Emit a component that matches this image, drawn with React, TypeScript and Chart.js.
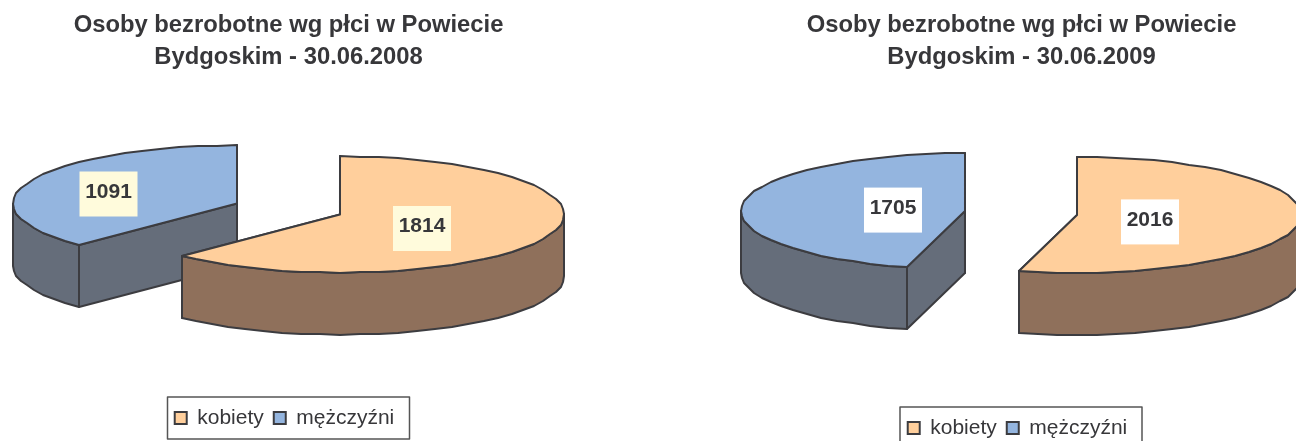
import React, { useEffect, useRef } from "react";
import { Chart, registerables } from "chart.js";

Chart.register(...registerables);

const categories = ["kobiety", "mężczyźni"];
const values2008 = [1814, 1091];
const values2009 = [2016, 1705];
const titleLines2008 = ["Osoby bezrobotne wg płci w Powiecie", "Bydgoskim - 30.06.2008"];
const titleLines2009 = ["Osoby bezrobotne wg płci w Powiecie", "Bydgoskim - 30.06.2009"];
const topColors = ["#FFCF9C", "#94B5DF"];
const sideColors = ["#8F705B", "#656D7A"];

const INK = "#37373a";
const OUTLINE = "#3c3c40";
const RADIUS = 224;
const SQUASH = 0.259;
const DEPTH = 62;
const RIM_STEP = (5 * Math.PI) / 180;
const LEGEND_SHIFT = 4;
const FONT = "'Liberation Sans', Arial, sans-serif";

function rimAngles(a0: number, a1: number) {
  const out = [a0];
  let a = (Math.floor(a0 / RIM_STEP) + 1) * RIM_STEP;
  while (a < a1 - 1e-6) {
    out.push(a);
    a += RIM_STEP;
  }
  out.push(a1);
  return out;
}

function pie3d(o: { cx: number; cy: number; explode: number; labelBg: string; labelShift: number[][]; legendW: number; legendH: number }) {
  return {
    id: "pie3d",
    afterLayout(chart: any) {
      chart.legend.left -= LEGEND_SHIFT;
      chart.legend.right -= LEGEND_SHIFT;
    },
    beforeDatasetsDraw(chart: any) {
      const ctx = chart.ctx;
      const els: any[] = chart.getDatasetMeta(0).data;
      ctx.lineWidth = 2;
      ctx.lineJoin = "round";
      ctx.strokeStyle = OUTLINE;

      const geo = els.map((el) => {
        const mid = (el.startAngle + el.endAngle) / 2;
        const ax = o.cx + Math.cos(mid) * o.explode;
        const ay = o.cy + Math.sin(mid) * o.explode * SQUASH;
        const rim = (a: number) => [
          Math.round(ax + RADIUS * Math.cos(a)),
          Math.round(ay + RADIUS * SQUASH * Math.sin(a)),
        ];
        return { el, ax, ay, rim };
      });

      // side walls, back slice first
      [...geo].reverse().forEach((g, k) => {
        const i = geo.length - 1 - k;
        ctx.fillStyle = sideColors[i];
        [g.el.startAngle, g.el.endAngle].forEach((a: number) => {
          const [x, y] = g.rim(a);
          ctx.beginPath();
          ctx.moveTo(g.ax, g.ay);
          ctx.lineTo(x, y);
          ctx.lineTo(x, y + DEPTH);
          ctx.lineTo(g.ax, g.ay + DEPTH);
          ctx.closePath();
          ctx.fill();
          ctx.stroke();
        });
        const a0 = Math.max(g.el.startAngle, 0);
        const a1 = Math.min(g.el.endAngle, Math.PI);
        if (a1 > a0) {
          const angles = rimAngles(a0, a1);
          ctx.beginPath();
          angles.forEach((a, s) => {
            const [x, y] = g.rim(a);
            s ? ctx.lineTo(x, y) : ctx.moveTo(x, y);
          });
          [...angles].reverse().forEach((a) => {
            const [x, y] = g.rim(a);
            ctx.lineTo(x, y + DEPTH);
          });
          ctx.closePath();
          ctx.fill();
          ctx.stroke();
        }
      });

      // top faces, drawn by the library's own arc elements
      [...geo].reverse().forEach((g) => {
        ctx.save();
        ctx.translate(g.ax, g.ay);
        ctx.scale(1, SQUASH);
        ctx.translate(-g.el.x, -g.el.y);
        g.el.draw(ctx);
        ctx.restore();
        ctx.strokeStyle = OUTLINE;
        ctx.lineWidth = 2;
        ctx.beginPath();
        ctx.moveTo(g.ax, g.ay);
        rimAngles(g.el.startAngle, g.el.endAngle).forEach((a) => {
          const [x, y] = g.rim(a);
          ctx.lineTo(x, y);
        });
        ctx.closePath();
        ctx.stroke();
      });

      // value labels
      const vals: number[] = chart.data.datasets[0].data;
      ctx.font = `bold 21px ${FONT}`;
      ctx.textAlign = "center";
      ctx.textBaseline = "middle";
      geo.forEach((g, i) => {
        const lx = g.ax + o.labelShift[i][0];
        const ly = g.ay + o.labelShift[i][1];
        ctx.fillStyle = o.labelBg;
        ctx.fillRect(lx - 29, ly - 22.5, 58, 45);
        ctx.fillStyle = INK;
        ctx.fillText(String(vals[i]), lx, ly - 2);
      });
      return false;
    },
    afterDraw(chart: any) {
      const l = chart.legend;
      const ctx = chart.ctx;
      const midY = l.top + l.options.labels.padding + 10.5;
      ctx.save();
      ctx.strokeStyle = "#555555";
      ctx.lineWidth = 1.5;
      ctx.strokeRect(o.cx - o.legendW / 2, midY - o.legendH / 2, o.legendW, o.legendH);
      ctx.restore();
    },
  };
}

function PieChart(props: {
  values: number[];
  title: string[];
  left: number;
  width: number;
  height: number;
  cy: number;
  cx: number;
  explode: number;
  labelBg: string;
  labelShift: number[][];
}) {
  const ref = useRef<HTMLCanvasElement>(null);
  useEffect(() => {
    const chart = new Chart(ref.current as HTMLCanvasElement, {
      type: "pie",
      data: {
        labels: categories,
        datasets: [
          {
            data: props.values,
            backgroundColor: topColors,
            borderWidth: 0,
            radius: RADIUS,
          } as any,
        ],
      },
      options: {
        responsive: false,
        animation: false,
        layout: { padding: { bottom: 2.5 } },
        plugins: {
          tooltip: { enabled: false },
          title: {
            display: true,
            text: props.title,
            color: INK,
            font: { family: FONT, size: 23.8, weight: "bold", lineHeight: 1.345 },
            padding: { top: 9, bottom: 0 },
          },
          legend: {
            display: true,
            position: "bottom",
            labels: {
              color: INK,
              font: { family: FONT, size: 21 },
              boxWidth: 12,
              boxHeight: 12,
              padding: 10,
              generateLabels: (c: any) =>
                c.data.labels.map((text: string, i: number) => ({
                  text,
                  fillStyle: topColors[i],
                  strokeStyle: OUTLINE,
                  lineWidth: 2,
                  fontColor: INK,
                  index: i,
                  hidden: false,
                })),
            },
          },
        },
      } as any,
      plugins: [
        pie3d({
          cx: props.cx,
          cy: props.cy,
          explode: props.explode,
          labelBg: props.labelBg,
          labelShift: props.labelShift,
          legendW: 242,
          legendH: 42,
        }),
      ],
    });
    return () => chart.destroy();
  }, []);
  return (
    <canvas
      ref={ref}
      width={props.width}
      height={props.height}
      style={{ position: "absolute", left: props.left, top: 0, display: "block" }}
    />
  );
}

export default function App() {
  return (
    <div style={{ position: "absolute", left: 0, top: 0, width: 1296, height: 441, overflow: "hidden", background: "#fff" }}>
      <PieChart
        values={values2008}
        title={titleLines2008}
        left={0}
        width={577}
        height={441}
        cx={288.5}
        cy={209}
        explode={55.7}
        labelBg="#FFFBDC"
        labelShift={[[82, 14], [-128.5, -9.5]]}
      />
      <PieChart
        values={values2009}
        title={titleLines2009}
        left={720}
        width={603}
        height={451}
        cx={301}
        cy={213}
        explode={56.5}
        labelBg="#FFFFFF"
        labelShift={[[73, 7], [-72, -1]]}
      />
    </div>
  );
}
